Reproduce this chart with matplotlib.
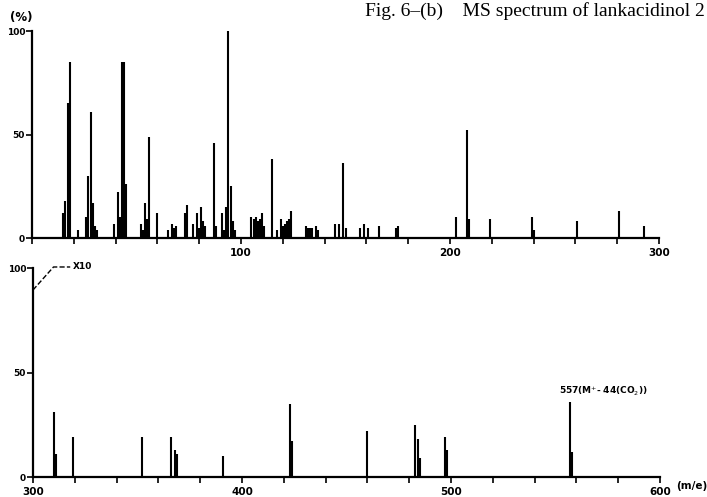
import numpy as np
import matplotlib
matplotlib.use("Agg")
import matplotlib.pyplot as plt

# MS spectrum of lankacidinol, low mass range (m/z 0-300), relative intensity %
mz_low = [15, 16, 17, 18, 22,
          26, 27, 28, 29, 30, 31,
          39, 41, 42, 43, 44, 45,
          52, 53, 54, 55, 56, 60,
          65, 67, 68, 69, 73, 74, 77, 79, 80, 81, 82, 83,
          87, 88, 91, 92, 93, 94, 95, 96, 97,
          105, 106, 107, 108, 109, 110, 111, 115, 117,
          119, 120, 121, 122, 123, 124,
          131, 132, 133, 134, 136, 137,
          145, 147, 149, 150, 157, 159, 161, 166, 174, 175,
          203, 208, 209, 219, 239, 240, 261, 281, 293]
int_low = [12, 18, 65, 85, 4,
           10, 30, 61, 17, 6, 4,
           7, 22, 10, 85, 85, 26,
           7, 4, 17, 9, 49, 12,
           4, 7, 5, 6, 12, 16, 7, 12, 5, 15, 8, 6,
           46, 6, 12, 4, 15, 100, 25, 8, 4,
           10, 9, 10, 8, 9, 12, 6, 38, 4,
           9, 6, 7, 8, 9, 13,
           6, 5, 5, 5, 6, 4,
           7, 7, 36, 5, 5, 7, 5, 6, 5, 6,
           10, 52, 9, 9, 10, 4, 8, 13, 6]

# high mass range (m/z 300-600), x10
mz_high = [310, 311, 319, 352, 366, 368, 369, 391,
           423, 424, 460, 483, 484, 485, 497, 498, 557, 558]
int_high = [31, 11, 19, 19, 19, 13, 11, 10,
            35, 17, 22, 25, 18, 9, 19, 13, 36, 12]

fig = plt.figure(figsize=(7.07, 4.97), dpi=100)
ax1 = fig.add_axes([0.0453, 0.5211, 0.8868, 0.4165])
ax2 = fig.add_axes([0.0467, 0.0402, 0.8868, 0.4205])

lab_font = dict(family="DejaVu Sans", weight="bold")

for ax, mz, inten, lo in [(ax1, mz_low, int_low, 0), (ax2, mz_high, int_high, 300)]:
    ax.vlines(mz, 0, inten, color="black", lw=1.5)
    ax.set_xlim(lo, lo + 300)
    ax.set_ylim(0, 100)
    for s in ["top", "right"]:
        ax.spines[s].set_visible(False)
    for s in ["left", "bottom"]:
        ax.spines[s].set_linewidth(1.6)
    ax.set_xticks(np.arange(lo, lo + 301, 20))
    ax.set_xticklabels([str(v) if v % 100 == 0 else "" for v in np.arange(lo, lo + 301, 20)],
                       fontsize=7.5, **lab_font)
    ax.set_yticks([0, 50, 100])
    ax.set_yticklabels(["0", "50", "100"], fontsize=6.5, **lab_font)
    ax.tick_params(axis="x", direction="out", length=4, width=1.2, pad=3)
    ax.tick_params(axis="y", direction="out", length=4, width=1.2, pad=1)
    ax.set_facecolor("none")

# top panel: hide first x tick label (0)
ax1.get_xticklabels()[0].set_visible(False)

fig.text(0.014, 0.965, "(%)", fontsize=8.5, ha="left", va="center", **lab_font)
fig.text(0.997, 0.978, "Fig. 6\u2013(b)    MS spectrum of lankacidinol 2",
         fontsize=14, ha="right", va="center", family="Liberation Serif")

# x10 marker
ax2.plot([300, 309.8, 317.8], [89.5, 100.5, 100.5], ls="--", color="black",
         lw=1, clip_on=False)
ax2.text(319, 100.5, "X10", fontsize=6.5, ha="left", va="center", **lab_font)

ax2.text(551.5, 38, "557(M$^{+}$- 44(CO$_{2}$))", fontsize=6.5, ha="left",
         va="bottom", **lab_font)
fig.text(0.957, 0.012, "(m/e)", fontsize=7.5, ha="left", va="bottom", **lab_font)

fig.savefig("out.png", dpi=100)
